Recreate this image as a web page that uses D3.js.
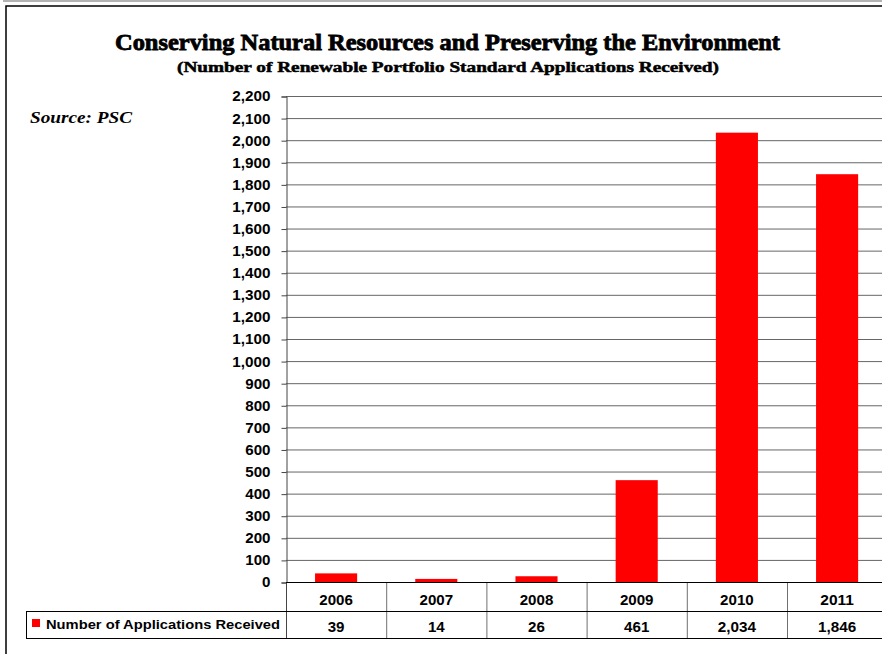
<!DOCTYPE html>
<html>
<head>
<meta charset="utf-8">
<script src="https://cdn.jsdelivr.net/npm/d3@7"></script>
<style>
  body { margin: 0; background: #fff; }
  svg { display: block; }
  .sans { font-family: Arial, "Liberation Sans", sans-serif; font-weight: bold; }
  .serif { font-family: "Times New Roman", "Liberation Serif", serif; font-weight: bold; }
</style>
</head>
<body>
<div id="chart"></div>
<script>
// data
var years = ["2006", "2007", "2008", "2009", "2010", "2011"];
var applications = [39, 14, 26, 461, 2034, 1846];
var yTicks = d3.range(0, 2201, 100);
var seriesName = "Number of Applications Received";

var W = 882, H = 654;
var svg = d3.select("#chart").append("svg").attr("width", W).attr("height", H);

// outer frame
svg.append("line").attr("x1", 3).attr("x2", W).attr("y1", 1).attr("y2", 1)
  .attr("stroke", "#9a9a9a").attr("stroke-width", 1.5);
svg.append("path").attr("d", "M6,654V6H882").attr("fill", "none")
  .attr("stroke", "#000").attr("stroke-width", 1.5);

// width of a label made of digits and commas (the picture's glyphs are wide)
function numLen(s) {
  var n = 0;
  for (var i = 0; i < s.length; i++) n += s[i] == "," ? 4.6 : 8.4;
  return n;
}

var x = d3.scaleBand().domain(years).range([286, 286 + 6 * 100.2]).padding(0);
var y = d3.scaleLinear().domain([0, 2200]).range([582, 96]);
var barW = x.bandwidth() * 0.42;

// grid
svg.append("g").selectAll("line").data(yTicks.filter(function(d) { return d > 0; }))
  .join("line")
  .attr("x1", 286).attr("x2", W)
  .attr("y1", function(d) { return y(d) + 0.5; }).attr("y2", function(d) { return y(d) + 0.5; })
  .attr("stroke", "#666").attr("stroke-width", 1);

// bars
svg.append("g").selectAll("rect").data(applications).join("rect")
  .attr("x", function(d, i) { return x(years[i]) + (x.bandwidth() - barW) / 2; })
  .attr("y", function(d) { return y(d); })
  .attr("width", barW)
  .attr("height", function(d) { return y(0) - y(d); })
  .attr("fill", "#ff0000");

// y axis
var yAxis = svg.append("g").attr("transform", "translate(286.5,0.5)")
  .call(d3.axisLeft(y).tickValues(yTicks).tickFormat(d3.format(",")).tickSize(5).tickPadding(11));
yAxis.select(".domain").attr("stroke", "#444");
yAxis.selectAll(".tick line").attr("stroke", "#444");
yAxis.selectAll("text").attr("class", "sans").style("font-size", "14px").attr("fill", "#000")
  .attr("textLength", function(d) { return numLen(d3.format(",")(d)); })
  .attr("lengthAdjust", "spacingAndGlyphs");

// data table below the axis
var table = svg.append("g");
table.selectAll("line.v").data(years).join("line").attr("class", "v")
  .attr("x1", function(d) { return x(d) + x.bandwidth() + 0.5; })
  .attr("x2", function(d) { return x(d) + x.bandwidth() + 0.5; })
  .attr("y1", 582).attr("y2", 638).attr("stroke", "#707070");
table.append("line").attr("x1", 286.5).attr("x2", 286.5).attr("y1", 582).attr("y2", 638).attr("stroke", "#444");
table.append("line").attr("x1", 286).attr("x2", W).attr("y1", 582.5).attr("y2", 582.5).attr("stroke", "#000");
table.append("line").attr("x1", 26).attr("x2", W).attr("y1", 611.5).attr("y2", 611.5).attr("stroke", "#000");
table.append("line").attr("x1", 26).attr("x2", W).attr("y1", 638.5).attr("y2", 638.5).attr("stroke", "#000");
table.append("line").attr("x1", 26.5).attr("x2", 26.5).attr("y1", 611).attr("y2", 639).attr("stroke", "#000");

table.selectAll("text.year").data(years).join("text").attr("class", "sans year")
  .attr("x", function(d) { return x(d) + x.bandwidth() / 2; }).attr("y", 605)
  .attr("text-anchor", "middle").style("font-size", "14px")
  .attr("textLength", function(d) { return numLen(d); }).attr("lengthAdjust", "spacingAndGlyphs")
  .text(function(d) { return d; });

table.selectAll("text.val").data(applications).join("text").attr("class", "sans val")
  .attr("x", function(d, i) { return x(years[i]) + x.bandwidth() / 2; }).attr("y", 632)
  .attr("text-anchor", "middle").style("font-size", "14px")
  .attr("textLength", function(d) { return numLen(d3.format(",")(d)); }).attr("lengthAdjust", "spacingAndGlyphs")
  .text(function(d) { return d3.format(",")(d); });

// legend key
table.append("rect").attr("x", 32).attr("y", 619).attr("width", 8).attr("height", 8).attr("fill", "#ff0000");
table.append("text").attr("class", "sans").attr("x", 46).attr("y", 629)
  .style("font-size", "13px").attr("textLength", 234).attr("lengthAdjust", "spacingAndGlyphs")
  .text(seriesName);

// titles (the original face is heavier, so a thin stroke thickens it)
svg.append("text").attr("class", "serif").attr("x", 447.5).attr("y", 50)
  .attr("text-anchor", "middle").style("font-size", "23px")
  .attr("stroke", "#000").attr("stroke-width", 0.8)
  .attr("textLength", 665).attr("lengthAdjust", "spacingAndGlyphs")
  .text("Conserving Natural Resources and Preserving the Environment");
svg.append("text").attr("class", "serif").attr("x", 448).attr("y", 72)
  .attr("text-anchor", "middle").style("font-size", "15px")
  .attr("stroke", "#000").attr("stroke-width", 0.5)
  .attr("textLength", 542).attr("lengthAdjust", "spacingAndGlyphs")
  .text("(Number of Renewable Portfolio Standard Applications Received)");

svg.append("text").attr("class", "serif").attr("x", 30).attr("y", 123)
  .style("font-size", "16px").style("font-style", "italic")
  .attr("textLength", 102).attr("lengthAdjust", "spacingAndGlyphs")
  .text("Source:  PSC");
</script>
</body>
</html>
